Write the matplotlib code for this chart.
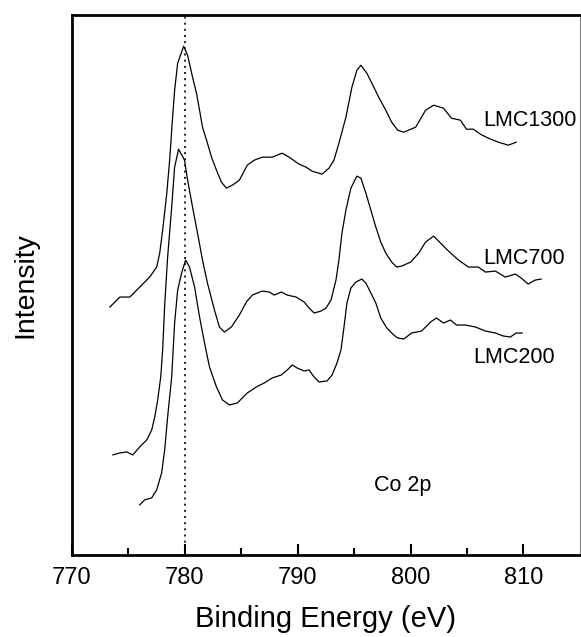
import matplotlib
matplotlib.use("Agg")
import matplotlib.pyplot as plt

plt.rcParams['font.family'] = ['Liberation Sans', 'DejaVu Sans']

# binding energy (eV) and intensity (arb. units)
e_1300 = [773.35, 774.24, 775.12, 776.00, 776.88, 777.50, 777.77, 778.03, 778.38, 778.65,
          778.91, 779.09, 779.36, 779.89, 780.24, 780.68, 781.03, 781.30, 781.56, 781.92,
          782.36, 782.80, 783.24, 783.68, 784.21, 784.83, 785.53, 786.15, 786.86, 787.74,
          788.62, 789.24, 790.12, 790.74, 791.27, 792.15, 792.77, 793.21, 793.65, 794.27,
          794.80, 795.24, 795.60, 796.13, 796.57, 797.18, 797.80, 798.33, 798.86, 799.39,
          800.45, 801.33, 802.04, 802.92, 803.63, 804.42, 804.95, 805.57, 806.19, 806.89,
          807.78, 808.66, 809.36]
i_1300 = [248, 258, 258, 268, 278, 288, 302, 325, 360, 395,
          438, 465, 492, 509, 500, 478, 462, 445, 428, 415,
          398, 385, 373, 367, 370, 375, 390, 395, 398, 398,
          402, 398, 391, 388, 384, 381, 387, 395, 412, 438,
          468, 485, 490, 482, 472, 458, 445, 433, 425, 423,
          428, 445, 450, 447, 437, 435, 426, 426, 421, 417,
          413, 410, 413]

e_700 = [773.62, 774.24, 774.85, 775.38, 776.00, 776.62, 777.06, 777.33, 777.59, 777.86,
         778.03, 778.21, 778.47, 778.83, 779.09, 779.44, 779.97, 780.24, 780.68, 781.12,
         781.56, 782.00, 782.62, 783.06, 783.50, 784.12, 784.83, 785.45, 785.98, 786.86,
         787.48, 787.92, 788.54, 789.07, 789.86, 790.57, 791.01, 791.45, 792.07, 792.51,
         792.95, 793.39, 793.65, 793.92, 794.27, 794.71, 795.24, 795.60, 796.04, 796.48,
         796.92, 797.36, 797.80, 798.33, 798.77, 799.21, 800.01, 800.72, 801.33, 802.04,
         802.66, 803.36, 804.25, 805.13, 806.01, 806.63, 807.51, 808.39, 809.28, 809.81,
         810.42, 811.04, 811.57]
i_700 = [100, 102, 103, 100, 108, 115, 125, 138, 155, 178,
         205, 250, 298, 348, 388, 406, 395, 375, 348, 322,
         295, 272, 245, 228, 223, 228, 240, 253, 260, 264,
         263, 260, 263, 260, 258, 253, 247, 242, 244, 247,
         255, 275, 295, 322, 345, 367, 379, 377, 362, 345,
         328, 313, 302, 293, 288, 289, 293, 302, 313, 319,
         312, 304, 295, 288, 288, 283, 284, 278, 281, 277,
         271, 275, 276]

e_200 = [776.00, 776.44, 777.06, 777.50, 777.94, 778.21, 778.47, 778.83, 779.09, 779.36,
         779.71, 780.06, 780.41, 780.86, 781.30, 781.74, 782.18, 782.80, 783.33, 783.95,
         784.65, 785.53, 786.33, 787.03, 787.74, 788.54, 789.07, 789.51, 789.95, 790.57,
         791.01, 791.45, 791.89, 792.60, 793.04, 793.48, 793.83, 794.10, 794.36, 794.71,
         795.15, 795.68, 796.04, 796.48, 796.92, 797.36, 797.89, 798.51, 798.86, 799.39,
         800.10, 800.98, 801.77, 802.30, 802.92, 803.54, 804.07, 804.86, 805.75, 806.63,
         807.51, 808.22, 808.84, 809.36, 809.89]
i_200 = [50, 55, 57, 65, 82, 105, 138, 178, 232, 265,
         282, 295, 288, 268, 238, 212, 188, 168, 155, 150,
         152, 162, 168, 172, 177, 180, 185, 190, 187, 184,
         185, 178, 173, 174, 180, 192, 205, 228, 252, 267,
         273, 276, 272, 262, 252, 237, 227, 220, 217, 216,
         222, 224, 233, 237, 232, 235, 230, 230, 228, 224,
         222, 219, 218, 222, 222]

labels = ['LMC1300', 'LMC700', 'LMC200']

fig = plt.figure(figsize=(5.81, 6.37), dpi=100)
ax = fig.add_axes([0.124, 0.129, 0.874, 0.847])

for e, i in [(e_1300, i_1300), (e_700, i_700), (e_200, i_200)]:
    ax.plot(e, i, color='black', lw=0.9)

ax.axvline(780, color='black', ls=(0, (1.2, 2.5)), lw=1.2)

ax.text(806.45, 435, labels[0], fontsize=15.5, va='center')
ax.text(806.45, 297, labels[1], fontsize=15.5, va='center')
ax.text(805.57, 197, labels[2], fontsize=15.5, va='center')
ax.text(796.74, 69, 'Co 2p', fontsize=15.5, va='center')

ax.set_xlim(770, 815)
ax.set_ylim(0, 540)
ax.set_xticks([770, 780, 790, 800, 810])
ax.set_xticks([775, 785, 795, 805], minor=True)
ax.set_yticks([])
ax.tick_params(axis='x', direction='in', length=8, width=1.5, labelsize=17, pad=9)
ax.tick_params(axis='x', which='minor', direction='in', length=5, width=1.5)

for s in ['left', 'bottom', 'top']:
    ax.spines[s].set_linewidth(2)
ax.spines['right'].set_linewidth(0.8)
ax.spines['right'].set_color('gray')

ax.set_xlabel('Binding Energy (eV)', fontsize=21, labelpad=11)
ax.set_ylabel('Intensity', fontsize=20.5, labelpad=24)

fig.savefig('out.png', dpi=100)
